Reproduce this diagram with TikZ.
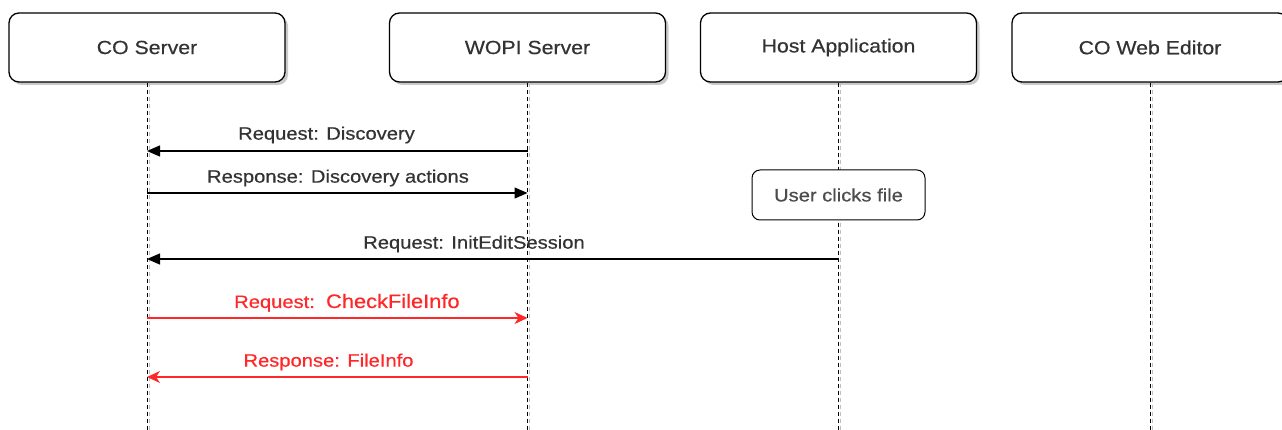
\documentclass[tikz,border=0pt]{standalone}
\usepackage{fontspec}
\setmainfont[FakeStretch=1.12,UprightFeatures={FakeBold=0.5}]{Liberation Sans}
\usetikzlibrary{arrows.meta,shadows}
\definecolor{msgred}{RGB}{255,40,40}
\tikzset{
  actor/.style={draw=black, line width=1.3pt, rounded corners=10pt, fill=white,
    minimum width=276pt, minimum height=69pt, inner sep=0pt,
    font=\fontsize{19}{21}\selectfont, text=black!80,
    drop shadow={shadow xshift=3pt, shadow yshift=-3pt, fill=black!35, opacity=0.6}},
  notebox/.style={draw=black, line width=1pt, rounded corners=8pt, fill=white,
    minimum width=173pt, minimum height=50pt, inner sep=0pt,
    font=\fontsize{18}{20}\selectfont, text=black!70},
  lifeline/.style={draw=black, line width=0.9pt, dash pattern=on 4pt off 3pt},
  lifeshadow/.style={draw=black!25, line width=0.9pt, dash pattern=on 4pt off 3pt},
  msg/.style={draw=black, line width=1.3pt, -{Triangle[length=13pt,width=11pt]}},
  redmsg/.style={draw=msgred, line width=1.3pt, -{Stealth[length=13pt,width=12pt,inset=4pt]}},
  lbl/.style={font=\fontsize{18}{20}\selectfont, text=black!80, inner sep=0pt},
  redlbl/.style={font=\fontsize{18}{20}\selectfont, text=msgred, inner sep=0pt},
}
\begin{document}
\begin{tikzpicture}[x=1pt,y=-1pt]
\useasboundingbox (0,0) rectangle (1282,430);
% actors
\node[actor] (co) at (147,47.5) {CO Server};
\node[actor] (wopi) at (527.5,47.5) {WOPI Server};
\node[actor] (host) at (838.5,47.5) {Host Application};
\node[actor] (web) at (1150,47.5) {CO Web Editor};
% lifeline ends
\coordinate (coE) at (147,430);
\coordinate (wopiE) at (527.5,430);
\coordinate (hostE) at (838.5,430);
\coordinate (webE) at (1150,430);
% lifeline shadows
\foreach \a in {co,wopi,host,web}{
  \draw[lifeshadow] ([xshift=2pt]\a.south) -- ([xshift=2pt]\a E);
}
\foreach \a in {co,wopi,host,web}{
  \draw[lifeline] (\a.south) -- (\a E);
}
% note
\node[notebox] (note) at (838.5,195) {User clicks file};
% message anchors
\coordinate (m1a) at (527.5,151); \coordinate (m1b) at (147,151);
\coordinate (m2a) at (147,193);   \coordinate (m2b) at (527.5,193);
\coordinate (m3a) at (838.5,259); \coordinate (m3b) at (147,259);
\coordinate (m4a) at (147,318);   \coordinate (m4b) at (527.5,318);
\coordinate (m5a) at (527.5,377); \coordinate (m5b) at (147,377);
\draw[msg] (m1a) -- (m1b);
\draw[msg] (m2a) -- (m2b);
\draw[msg] (m3a) -- (m3b);
\draw[redmsg] (m4a) -- (m4b);
\draw[redmsg] (m5a) -- (m5b);
% labels
\node[lbl] (l1) at (326.5,135) {Request: Discovery};
\node[lbl] (l2) at (338,178) {Response: Discovery actions};
\node[lbl] (l3) at (474,244) {Request: InitEditSession};
\node[redlbl, anchor=base west] (l4) at (234,308) {Request:\ \ {\fontsize{19.5}{21}\selectfont CheckFileInfo}};
\node[redlbl] (l5) at (328.5,362) {Response: FileInfo};
\end{tikzpicture}
\end{document}
